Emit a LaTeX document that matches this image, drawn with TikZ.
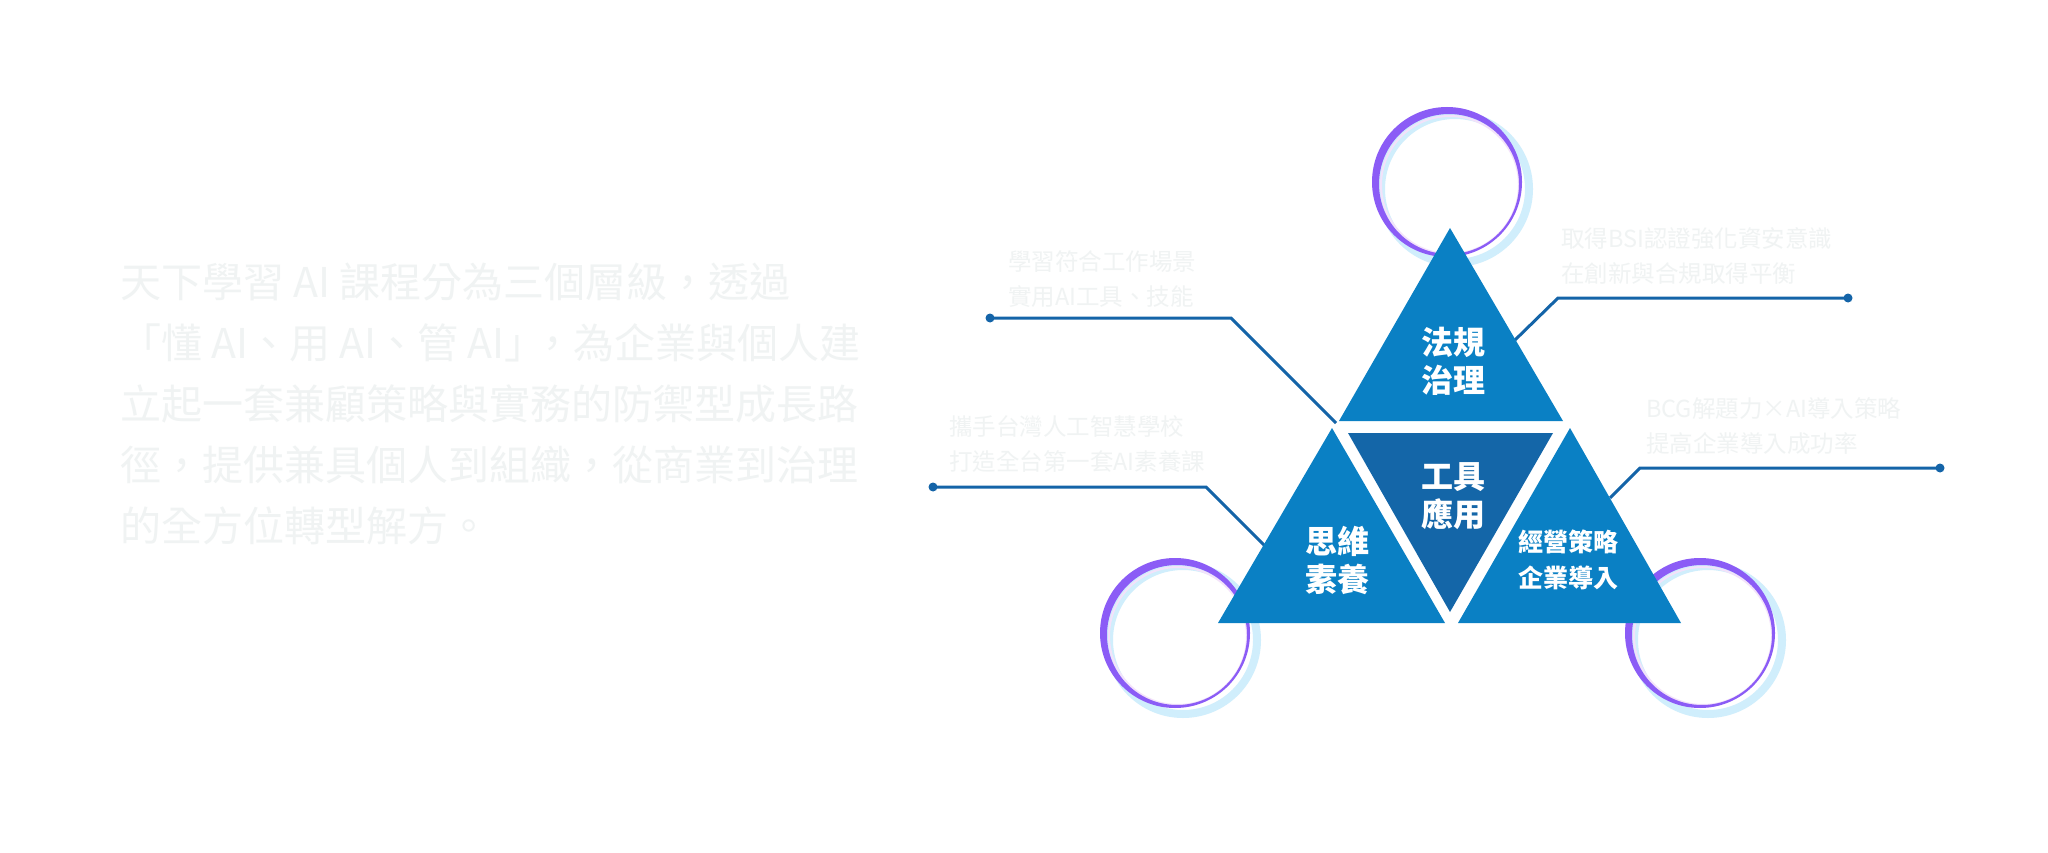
\documentclass[tikz,border=0pt]{standalone}
\usepackage{fontspec}
\newfontfamily\cjk{Noto Sans CJK TC}
\definecolor{tri}{RGB}{10,128,196}
\definecolor{tricen}{RGB}{20,102,168}
\definecolor{conn}{RGB}{20,100,168}
\definecolor{faint}{RGB}{240,243,243}
\definecolor{ringpurple}{RGB}{139,92,246}
\definecolor{ringcyan}{RGB}{208,238,252}
\definecolor{ringpink}{RGB}{243,226,250}
\tikzset{
  connector/.style={draw=conn, line width=3pt, line join=miter},
  dotnode/.style={circle, fill=conn, inner sep=0pt, minimum size=9pt},
  annot/.style={font=\cjk\fontsize{23.5}{35}\selectfont, text=faint, align=left, inner sep=0pt, anchor=west},
  bigtext/.style={font=\cjk\fontsize{41}{61}\selectfont, text=faint, align=left, inner sep=0pt, anchor=west},
  trilabel/.style={font=\cjk\bfseries\fontsize{32}{38}\selectfont, text=white, align=center, inner sep=0pt},
  trilabelsmall/.style={font=\cjk\bfseries\fontsize{25}{36}\selectfont, text=white, align=center, inner sep=0pt},
}
\newcommand{\ringdeco}[2]{%
  \draw[ringcyan, line width=8pt] (#1+8,#2+7) circle[radius=74];
  \draw[ringpink, line width=2pt] (#1+3,#2+3) circle[radius=69];
  \fill[ringpurple, even odd rule] (#1,#2) circle[radius=75] (#1+2,#2+2) circle[radius=70];
}
\begin{document}
\begin{tikzpicture}[x=1pt,y=-1pt]
\useasboundingbox (0,0) rectangle (2048,853);
\fill[white] (0,0) rectangle (2048,853);

% paragraph
\node[bigtext] (para) at (120,404) {天下學習 AI 課程分為三個層級，透過\\「懂 AI、用 AI、管 AI」\kern-13pt，為企業與個人建\\立起一套兼顧策略與實務的防禦型成長路\\徑，提供兼具個人到組織，從商業到治理\\的全方位轉型解方。};

% decorative rings
\ringdeco{1447}{182}
\ringdeco{1175}{633}
\ringdeco{1700}{633}

% connectors
\node[dotnode] (d1) at (990,318) {};
\coordinate (e1) at (1231,318);
\coordinate (f1) at (1336,423);
\node[dotnode] (d2) at (1848,298) {};
\coordinate (e2) at (1558,298);
\coordinate (f2) at (1515,340);
\node[dotnode] (d3) at (933,487) {};
\coordinate (e3) at (1206,487);
\coordinate (f3) at (1265,546);
\node[dotnode] (d4) at (1940,468) {};
\coordinate (e4) at (1640,468);
\coordinate (f4) at (1610,498);
\draw[connector] (d1.center) -- (e1) -- (f1);
\draw[connector] (d2.center) -- (e2) -- (f2);
\draw[connector] (d3.center) -- (e3) -- (f3);
\draw[connector] (d4.center) -- (e4) -- (f4);

% triangles
\coordinate (ta) at (1450,228);
\coordinate (tb) at (1339,421);
\coordinate (tc) at (1563,421);
\coordinate (la) at (1332,428);
\coordinate (lb) at (1218,623);
\coordinate (lc) at (1445,623);
\coordinate (ra) at (1570,428);
\coordinate (rb) at (1458,623);
\coordinate (rc) at (1681,623);
\coordinate (ca) at (1348,433);
\coordinate (cb) at (1553,433);
\coordinate (cc) at (1450,612);
\fill[tri] (ta) -- (tb) -- (tc) -- cycle;
\fill[tri] (la) -- (lb) -- (lc) -- cycle;
\fill[tri] (ra) -- (rb) -- (rc) -- cycle;
\fill[tricen] (ca) -- (cb) -- (cc) -- cycle;

% triangle labels
\node[trilabel] (law) at (1453,361) {法規\\治理};
\node[trilabel] (tool) at (1453,496) {工具\\應用};
\node[trilabel] (think) at (1337,560) {思維\\素養};
\node[trilabelsmall] (biz) at (1568,560) {經營策略\\企業導入};

% annotations
\node[annot] (n1) at (1008,279) {學習符合工作場景\\實用AI工具、技能};
\node[annot] (n2) at (1561,256) {取得BSI認證強化資安意識\\在創新與合規取得平衡};
\node[annot] (n3) at (949,444) {攜手台灣人工智慧學校\\打造全台第一套AI素養課};
\node[annot] (n4) at (1646,426) {BCG解題力×AI導入策略\\提高企業導入成功率};
\end{tikzpicture}
\end{document}
